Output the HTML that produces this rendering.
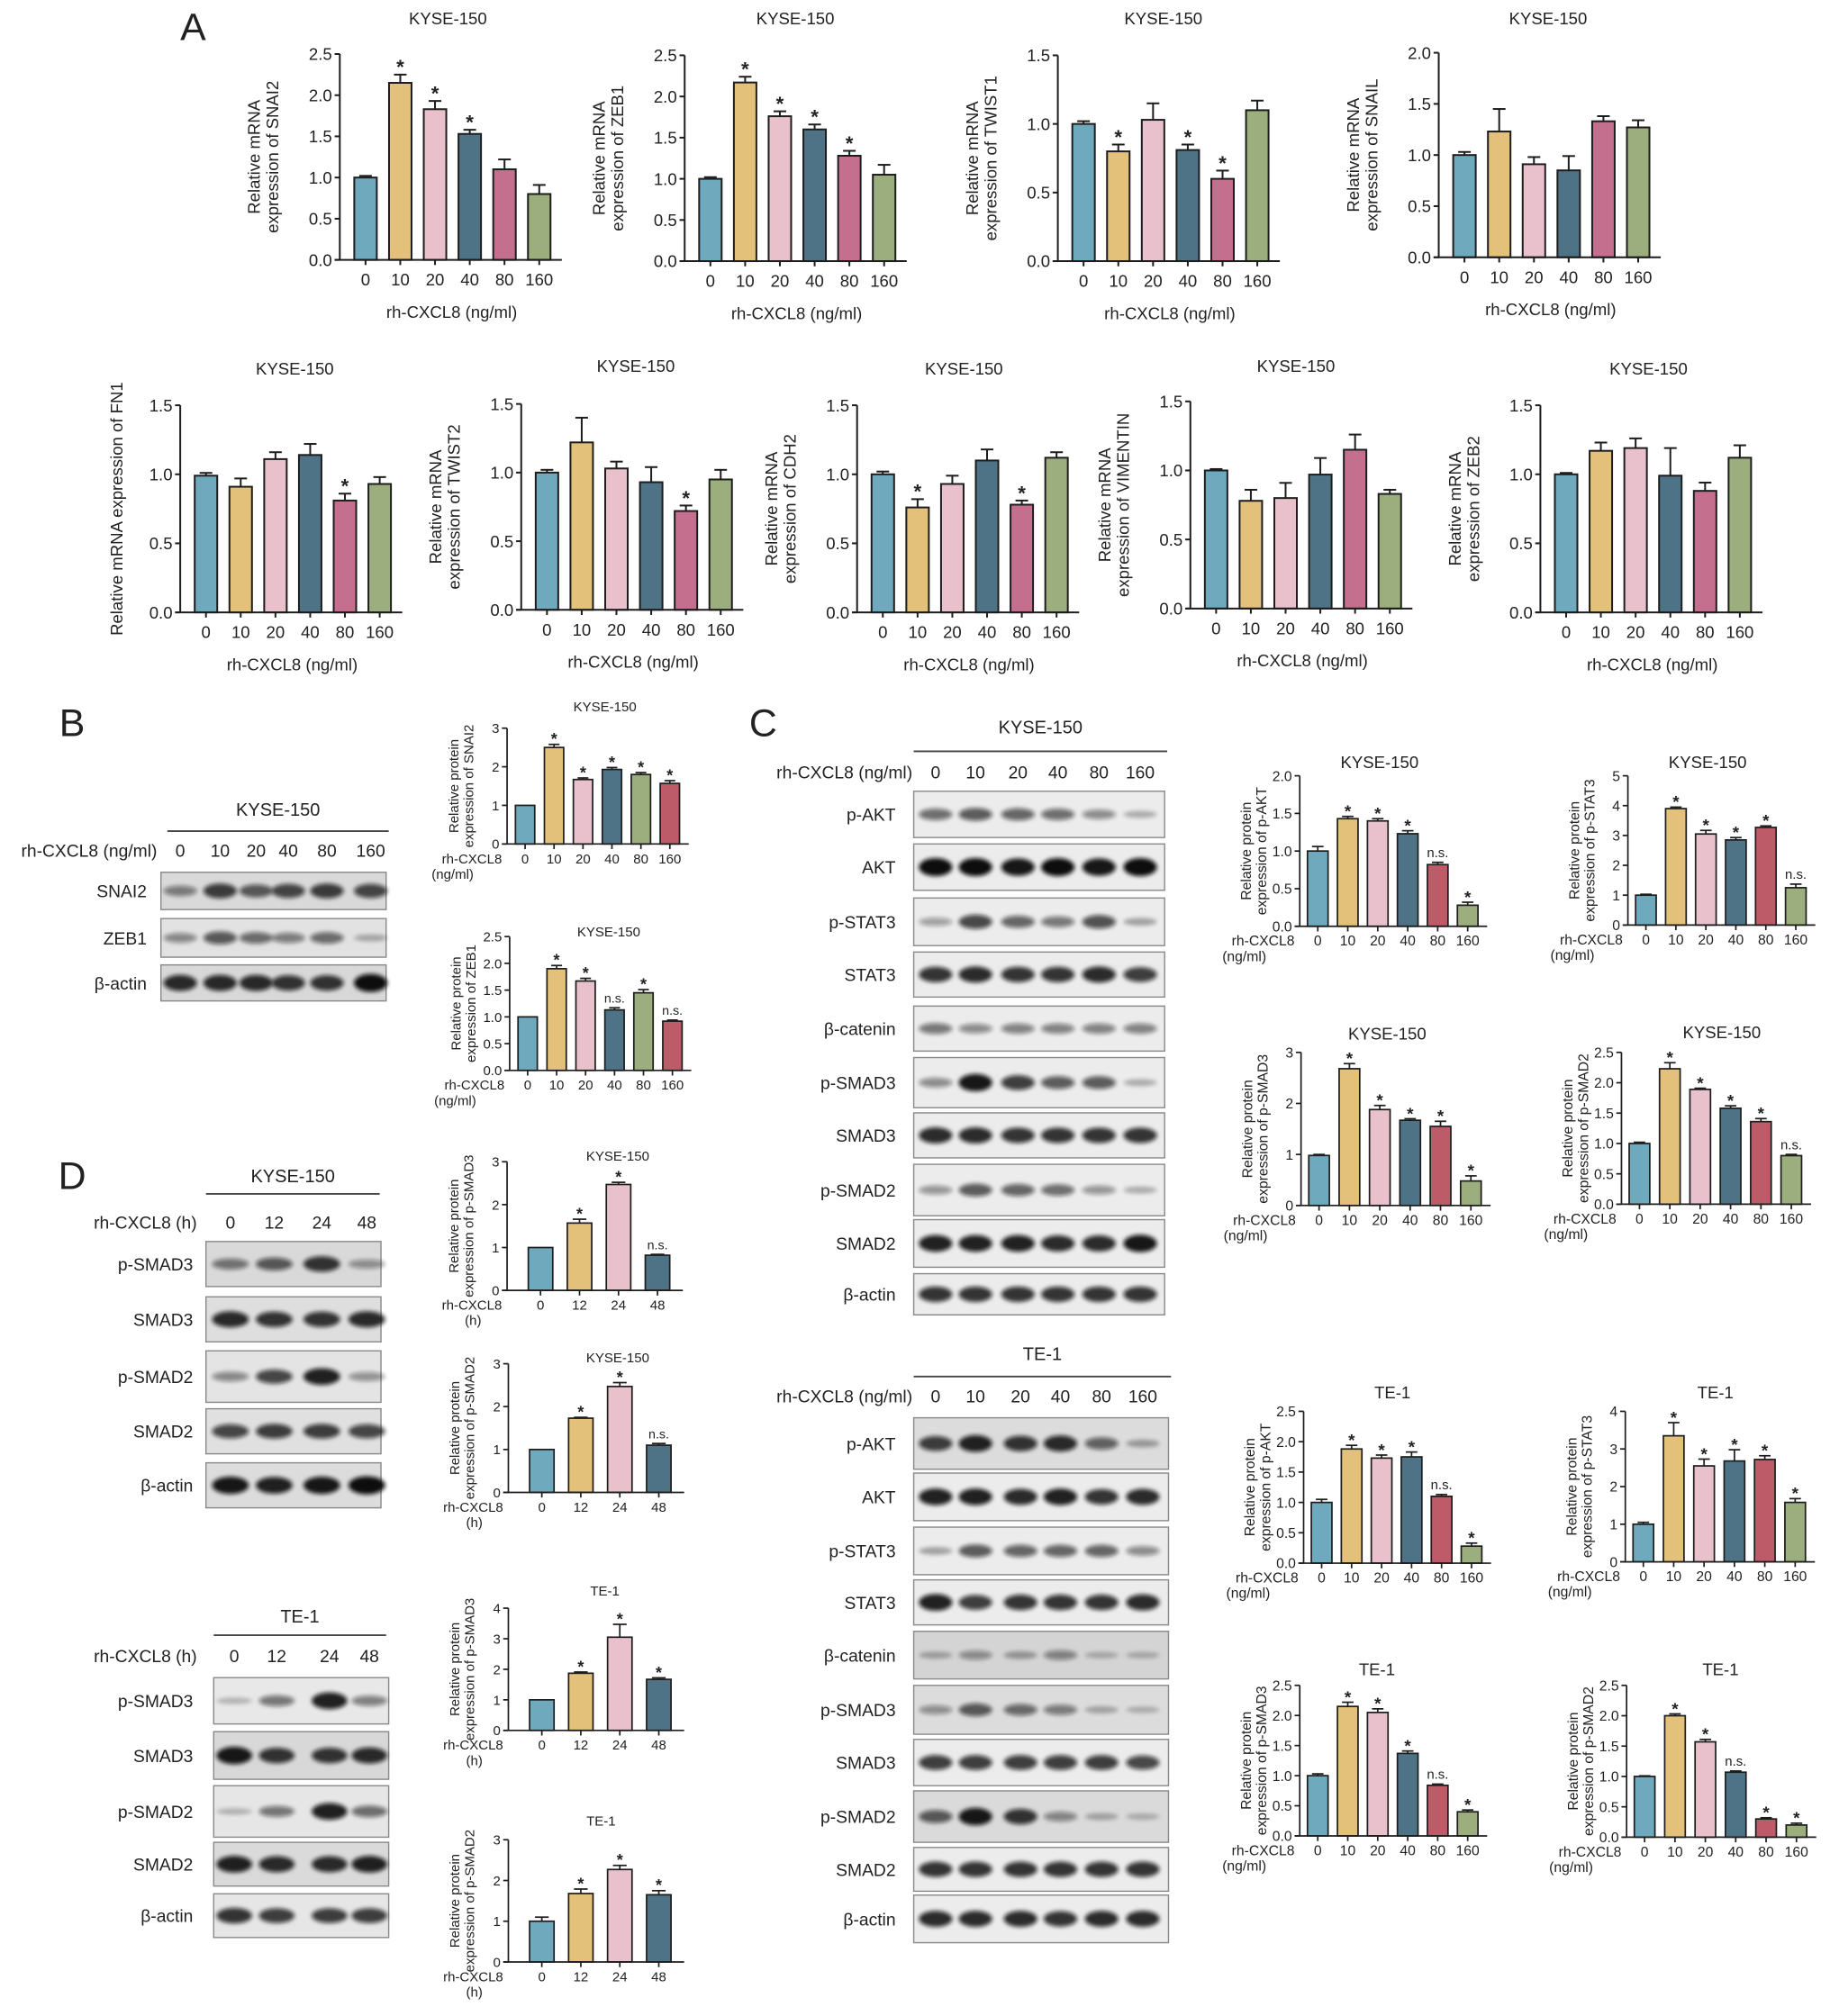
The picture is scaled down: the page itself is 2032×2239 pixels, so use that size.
<!DOCTYPE html>
<html><head><meta charset="utf-8"><style>
html,body{margin:0;padding:0;background:#fff;}
svg{display:block;font-family:"Liberation Sans",Arial,sans-serif;}
</style></head><body>
<svg id="fig" width="2032" height="2239" viewBox="0 0 1422 1567" xmlns="http://www.w3.org/2000/svg">
<defs><filter id="blur" x="-20%" y="-50%" width="140%" height="200%"><feGaussianBlur stdDeviation="1.6"/></filter></defs>
<g id="root"></g>
</svg>
<script>
// ---------- Data ----------
const doseLabels = ["0","10","20","40","80","160"];
const hourLabels = ["0","12","24","48"];
// Panel A mRNA
const snai2Vals=[1.0,2.15,1.83,1.53,1.1,0.8], snai2Err=[0.02,0.1,0.1,0.05,0.12,0.11], snai2Sig=["","*","*","*","",""];
const zeb1Vals=[1.0,2.17,1.76,1.6,1.28,1.05], zeb1Err=[0.02,0.07,0.06,0.06,0.06,0.12], zeb1Sig=["","*","*","*","*",""];
const twist1Vals=[1.0,0.8,1.03,0.81,0.6,1.1], twist1Err=[0.02,0.05,0.12,0.04,0.06,0.07], twist1Sig=["","*","","*","*",""];
const snailVals=[1.0,1.23,0.91,0.85,1.33,1.27], snailErr=[0.03,0.22,0.07,0.14,0.05,0.07], snailSig=["","","","","",""];
const fn1Vals=[0.99,0.91,1.11,1.14,0.81,0.93], fn1Err=[0.02,0.06,0.05,0.08,0.05,0.05], fn1Sig=["","","","","*",""];
const twist2Vals=[1.0,1.22,1.03,0.93,0.72,0.95], twist2Err=[0.02,0.18,0.05,0.11,0.04,0.07], twist2Sig=["","","","","*",""];
const cdh2Vals=[1.0,0.76,0.93,1.1,0.78,1.12], cdh2Err=[0.02,0.06,0.06,0.08,0.03,0.04], cdh2Sig=["","*","","","*",""];
const vimVals=[1.0,0.78,0.8,0.97,1.15,0.83], vimErr=[0.01,0.08,0.11,0.12,0.11,0.03], vimSig=["","","","","",""];
const zeb2Vals=[1.0,1.17,1.19,0.99,0.88,1.12], zeb2Err=[0.01,0.06,0.07,0.2,0.06,0.09], zeb2Sig=["","","","","",""];
// Panel B protein
const bSnai2Vals=[1.0,2.5,1.67,1.93,1.8,1.57], bSnai2Err=[0,0.08,0.04,0.05,0.05,0.07], bSnai2Sig=["","*","*","*","*","*"];
const bZeb1Vals=[1.0,1.9,1.67,1.13,1.45,0.92], bZeb1Err=[0,0.06,0.05,0.04,0.06,0.02], bZeb1Sig=["","*","*","n.s.","*","n.s."];
// Panel C KYSE-150
const cAktK=[1.0,1.43,1.4,1.23,0.82,0.28], cAktKErr=[0.06,0.03,0.03,0.04,0.03,0.04], cAktKSig=["","*","*","*","n.s.","*"];
const cStatK=[1.0,3.9,3.05,2.85,3.27,1.25], cStatKErr=[0.03,0.05,0.12,0.08,0.05,0.12], cStatKSig=["","*","*","*","*","n.s."];
const cSmad3K=[0.98,2.68,1.88,1.67,1.55,0.48], cSmad3KErr=[0.02,0.1,0.08,0.03,0.1,0.1], cSmad3KSig=["","*","*","*","*","*"];
const cSmad2K=[1.0,2.23,1.89,1.58,1.36,0.8], cSmad2KErr=[0.02,0.1,0.02,0.04,0.05,0.02], cSmad2KSig=["","*","*","*","*","n.s."];
// Panel C TE-1
const cAktT=[1.0,1.88,1.73,1.75,1.1,0.28], cAktTErr=[0.05,0.06,0.05,0.08,0.03,0.05], cAktTSig=["","*","*","*","n.s.","*"];
const cStatT=[1.0,3.35,2.55,2.68,2.72,1.58], cStatTErr=[0.05,0.35,0.18,0.3,0.1,0.1], cStatTSig=["","*","*","*","*","*"];
const cSmad3T=[1.0,2.15,2.05,1.37,0.84,0.4], cSmad3TErr=[0.03,0.07,0.06,0.04,0.02,0.03], cSmad3TSig=["","*","*","*","n.s.","*"];
const cSmad2T=[1.0,2.0,1.57,1.07,0.3,0.2], cSmad2TErr=[0.01,0.03,0.04,0.02,0.02,0.03], cSmad2TSig=["","*","*","n.s.","*","*"];
// Panel D
const dSmad3K=[1.0,1.57,2.47,0.82], dSmad3KErr=[0,0.09,0.05,0.02], dSmad3KSig=["","*","*","n.s."];
const dSmad2K=[1.0,1.73,2.47,1.1], dSmad2KErr=[0,0.02,0.09,0.04], dSmad2KSig=["","*","*","n.s."];
const dSmad3T=[1.0,1.87,3.05,1.67], dSmad3TErr=[0,0.04,0.42,0.05], dSmad3TSig=["","*","*","*"];
const dSmad2T=[1.0,1.68,2.27,1.65], dSmad2TErr=[0.1,0.11,0.1,0.1], dSmad2TSig=["","*","*","*"];

const colA=["#6fa9bd","#e3c17b","#e9c1cc","#4e7387","#c46f8e","#9cae7d"];
const colB=["#6fa9bd","#e3c17b","#e9c1cc","#4e7387","#9cae7d","#bd5c68"];
const colC=["#6fa9bd","#e3c17b","#e9c1cc","#4e7387","#bd5c68","#9cae7d"];
const colD=["#6fa9bd","#e3c17b","#e9c1cc","#4e7387"];

// ---------- Helpers ----------
const NS="http://www.w3.org/2000/svg";
const root=document.getElementById('root');
function el(tag,attrs,parent,text){
  const e=document.createElementNS(NS,tag);
  for(const k in attrs) e.setAttribute(k,attrs[k]);
  if(text!==undefined) e.textContent=text;
  (parent||root).appendChild(e);
  return e;
}
function txt(x,y,s,fs,anchor,parent,extra){
  const a={x:x,y:y,'font-size':fs,'text-anchor':anchor||'middle',fill:'#222'};
  if(extra) for(const k in extra) a[k]=extra[k];
  const t=el('text',a,parent,s);
  return t;
}

function barChart(c){
  const g=el('g',{});
  
  
  const n=c.vals.length;
  const X=i=>c.x0+i*c.dx;
  const Y=v=>c.bot-v/c.ymax*(c.bot-c.top);
  const xEnd=X(n-1)+c.dx*0.65;
  const fs=c.fs, lw=c.lw||1.3;
  const t=txt(c.tx,c.ty,c.title,c.tfs,'middle',g);
  
  
  for(let i=0;i<n;i++){
    const v=c.vals[i], e=c.errs[i];
    const b=el('rect',{x:X(i)-c.bw/2,y:Y(v),width:c.bw,height:c.bot-Y(v),fill:c.colors[i],stroke:'#1d1d1d','stroke-width':lw},g);
    
    
    if(e>0){
      el('line',{x1:X(i),x2:X(i),y1:Y(v),y2:Y(v+e),stroke:'#1d1d1d','stroke-width':lw},g);
      el('line',{x1:X(i)-c.bw*0.28,x2:X(i)+c.bw*0.28,y1:Y(v+e),y2:Y(v+e),stroke:'#1d1d1d','stroke-width':lw},g);
    }
    if(c.sigs[i]){
      const s=c.sigs[i];
      const cap=Y(v+e);
      let st;
      if(s==='*'){
        const sfs=fs*1.2;
        st=txt(X(i),cap-(c.starGap||5)+sfs*0.42,s,sfs,'middle',g,{'font-weight':'bold'});
      } else {
        st=txt(X(i),cap-4,s,fs*0.95,'middle',g);
      }
      
      
    }
  }
  el('line',{x1:c.ax,x2:c.ax,y1:c.top,y2:c.bot,stroke:'#1d1d1d','stroke-width':lw},g);
  el('line',{x1:c.ax-4,x2:xEnd,y1:c.bot,y2:c.bot,stroke:'#1d1d1d','stroke-width':lw},g);
  for(const tv of c.ticks){
    el('line',{x1:c.ax-4,x2:c.ax,y1:Y(tv),y2:Y(tv),stroke:'#1d1d1d','stroke-width':lw},g);
    const tl=txt(c.ax-6,Y(tv)+fs*0.36,tv.toFixed(c.dec),fs,'end',g);
    
    
  }
  for(let i=0;i<n;i++){
    el('line',{x1:X(i),x2:X(i),y1:c.bot,y2:c.bot+4,stroke:'#1d1d1d','stroke-width':lw},g);
    const xl=txt(X(i),c.xly,c.xlabs[i],fs,'middle',g);
    
    
  }
  const cy=(c.top+c.bot)/2;
  c.ylab.forEach((line,k)=>{
    const yl=txt(0,0,line,c.yfs||fs,'middle',g,{transform:`translate(${c.ylx+k*(c.yfs||fs)*1.1},${cy}) rotate(-90)`});
    
    
  });
  c.xt.forEach((line,k)=>{
    const xt=txt(c.xtx[k],c.xty[k],line,c.xtfs||fs,c.xta||'middle',g);
    
    
  });
}

// ---------- Panel A ----------
function aChart(name,title,gene,vals,errs,sigs,ax,top,bot,ymax,tx,ty,oneLine){
  const ticks=[];for(let v=0;v<=ymax+1e-9;v+=0.5)ticks.push(+v.toFixed(1));
  barChart({name:name,title:title,tx:tx,ty:ty,tfs:13,vals:vals,errs:errs,sigs:sigs,colors:colA,
    ax:ax,top:top,bot:bot,ymax:ymax,ticks:ticks,dec:1,x0:ax+20,dx:27,bw:17.5,fs:13,lw:1.4,starGap:7,
    xlabs:doseLabels,xly:bot+20,
    ylab:oneLine?["Relative mRNA expression of "+gene]:["Relative mRNA","expression of "+gene],ylx:oneLine?ax-45:ax-62,
    xt:["rh-CXCL8 (ng/ml)"],xtx:[ax+87],xty:[bot+45]});
}
aChart('chart-snai2-mrna','KYSE-150','SNAI2',snai2Vals,snai2Err,snai2Sig,264,42,202,2.5,348,19);
aChart('chart-zeb1-mrna','KYSE-150','ZEB1',zeb1Vals,zeb1Err,zeb1Sig,532,43,203,2.5,618,19);
aChart('chart-twist1-mrna','KYSE-150','TWIST1',twist1Vals,twist1Err,twist1Sig,822,43,203,1.5,904,19);
aChart('chart-snail-mrna','KYSE-150','SNAIL',snailVals,snailErr,snailSig,1118,41,200,2.0,1203,19);
aChart('chart-fn1-mrna','KYSE-150','FN1',fn1Vals,fn1Err,fn1Sig,140,315,476,1.5,229,291,true);
aChart('chart-twist2-mrna','KYSE-150','TWIST2',twist2Vals,twist2Err,twist2Sig,405,314,474,1.5,494,289);
aChart('chart-cdh2-mrna','KYSE-150','CDH2',cdh2Vals,cdh2Err,cdh2Sig,666,315,476,1.5,749,291);
aChart('chart-vimentin-mrna','KYSE-150','VIMENTIN',vimVals,vimErr,vimSig,925,312,473,1.5,1007,289);
aChart('chart-zeb2-mrna','KYSE-150','ZEB2',zeb2Vals,zeb2Err,zeb2Sig,1197,315,476,1.5,1281,291);

// ---------- Protein charts ----------
function pChart(name,title,gene,vals,errs,sigs,colors,ax,top,bot,ymax,step,dec,tx,ty,tfs,xl,unit,dx,bw,fs){
  fs=fs||10.5;
  const ticks=[];for(let v=0;v<=ymax+1e-9;v+=step)ticks.push(+v.toFixed(1));
  barChart({name:name,title:title,tx:tx,ty:ty,tfs:tfs,vals:vals,errs:errs,sigs:sigs,colors:colors,
    ax:ax,top:top,bot:bot,ymax:ymax,ticks:ticks,dec:dec,x0:ax+(dx>26?26:14),dx:dx,bw:bw,fs:fs,lw:1.2,starGap:5,
    xlabs:xl,xly:bot+15,
    ylab:["Relative protein","expression of "+gene],ylx:ax-38,yfs:fs,
    xt:["rh-CXCL8",unit],xtx:[ax-4,ax-(unit==="(h)"?20:26)],xty:[bot+15,bot+27],xta:'end',xtfs:fs});
}
// B
pChart('chart-snai2-protein','KYSE-150','SNAI2',bSnai2Vals,bSnai2Err,bSnai2Sig,colB,394,566,656,3,1,0,470,553,10.5,doseLabels,"(ng/ml)",22.5,15);
pChart('chart-zeb1-protein','KYSE-150','ZEB1',bZeb1Vals,bZeb1Err,bZeb1Sig,colB,396,728,832,2.5,0.5,1,473,728,10.5,doseLabels,"(ng/ml)",22.5,15);
// C KYSE
pChart('chart-pakt-kyse','KYSE-150','p-AKT',cAktK,cAktKErr,cAktKSig,colC,1010,603,720,2.0,0.5,1,1072,597,13,doseLabels,"(ng/ml)",23.3,16,11);
pChart('chart-pstat3-kyse','KYSE-150','p-STAT3',cStatK,cStatKErr,cStatKSig,colC,1265,603,719,5,1,0,1327,597,13,doseLabels,"(ng/ml)",23.3,16,11);
pChart('chart-psmad3-kyse','KYSE-150','p-SMAD3',cSmad3K,cSmad3KErr,cSmad3KSig,colC,1011,818,937,3,1,0,1078,808,13,doseLabels,"(ng/ml)",23.6,16,11);
pChart('chart-psmad2-kyse','KYSE-150','p-SMAD2',cSmad2K,cSmad2KErr,cSmad2KSig,colC,1260,818,936,2.5,0.5,1,1338,807,13,doseLabels,"(ng/ml)",23.6,16,11);
// C TE-1
pChart('chart-pakt-te1','TE-1','p-AKT',cAktT,cAktTErr,cAktTSig,colC,1013,1097,1215,2.5,0.5,1,1082,1087,13,doseLabels,"(ng/ml)",23.3,16,11);
pChart('chart-pstat3-te1','TE-1','p-STAT3',cStatT,cStatTErr,cStatTSig,colC,1263,1097,1214,4,1,0,1333,1087,13,doseLabels,"(ng/ml)",23.6,16,11);
pChart('chart-psmad3-te1','TE-1','p-SMAD3',cSmad3T,cSmad3TErr,cSmad3TSig,colC,1010,1310,1427,2.5,0.5,1,1070,1302,13,doseLabels,"(ng/ml)",23.3,16,11);
pChart('chart-psmad2-te1','TE-1','p-SMAD2',cSmad2T,cSmad2TErr,cSmad2TSig,colC,1264,1310,1428,2.5,0.5,1,1337,1302,13,doseLabels,"(ng/ml)",23.6,16,11);
// D
pChart('chart-psmad3-time-kyse','KYSE-150','p-SMAD3',dSmad3K,dSmad3KErr,dSmad3KSig,colD,394,903,1003,3,1,0,480,902,10.5,hourLabels,"(h)",30.3,19);
pChart('chart-psmad2-time-kyse','KYSE-150','p-SMAD2',dSmad2K,dSmad2KErr,dSmad2KSig,colD,395,1060,1160,3,1,0,480,1059,10.5,hourLabels,"(h)",30.3,19);
pChart('chart-psmad3-time-te1','TE-1','p-SMAD3',dSmad3T,dSmad3TErr,dSmad3TSig,colD,395,1250,1345,4,1,0,470,1240,10.5,hourLabels,"(h)",30.3,19);
pChart('chart-psmad2-time-te1','TE-1','p-SMAD2',dSmad2T,dSmad2TErr,dSmad2TSig,colD,395,1430,1525,3,1,0,467,1419,10.5,hourLabels,"(h)",30.3,19);

// ---------- Blots ----------
function blotPanel(name,cfg){
  const g=el('g',{});
  
  
  txt((cfg.lineX1+cfg.lineX2)/2,cfg.titleY,cfg.title,14,'middle',g);
  el('line',{x1:cfg.lineX1,x2:cfg.lineX2,y1:cfg.lineY,y2:cfg.lineY,stroke:'#444','stroke-width':1.3},g);
  txt(cfg.headerX,cfg.headerY,cfg.header,13.5,'end',g);
  cfg.laneLabels.forEach((l,i)=>txt(cfg.laneX[i],cfg.headerY,l,13.5,'middle',g));
  cfg.rows.forEach(r=>{
    const rg=el('g',{},g);
    
    
    const y1=r[1],y2=r[2];
    el('rect',{x:cfg.boxX1,y:y1,width:cfg.boxX2-cfg.boxX1,height:y2-y1,fill:r[4]||'#ececec',stroke:'#8a8a8a','stroke-width':1},rg);
    const cy=(y1+y2)/2, lw=(cfg.laneX[1]-cfg.laneX[0])*0.42;
    r[3].forEach((it,i)=>{
      if(it<=0) return;
      el('ellipse',{cx:cfg.laneX[i],cy:cy,rx:lw,ry:2+it*5,fill:'#111','fill-opacity':Math.min(1,0.15+it*0.85),filter:'url(#blur)'},rg);
    });
    txt(cfg.labelX,cy+5,r[0],13.5,'end',rg);
  });
}
blotPanel('blot-b-kyse150',{title:'KYSE-150',lineX1:130,lineX2:302,lineY:646,titleY:634,header:'rh-CXCL8 (ng/ml)',headerX:122,headerY:666,
  laneLabels:doseLabels,laneX:[140,171,199,224,254,288],boxX1:125,boxX2:300,labelX:114,
  rows:[["SNAI2",678,707,[0.4,0.75,0.6,0.7,0.75,0.7],'#d9d9d9'],["ZEB1",714,744,[0.35,0.6,0.5,0.4,0.5,0.15],'#e2e2e2'],["β-actin",750,778,[0.85,0.85,0.85,0.8,0.8,1],'#d8d8d8']]});
blotPanel('blot-c-kyse150',{title:'KYSE-150',lineX1:710,lineX2:907,lineY:584,titleY:570,header:'rh-CXCL8 (ng/ml)',headerX:709,headerY:605,
  laneLabels:doseLabels,laneX:[727,758,791,822,854,886],boxX1:710,boxX2:905,labelX:696,
  rows:[["p-AKT",615,651,[0.5,0.6,0.55,0.5,0.35,0.15]],["AKT",656,692,[1,1,0.95,1,0.95,1]],["p-STAT3",698,735,[0.25,0.7,0.55,0.45,0.65,0.2]],
    ["STAT3",740,775,[0.8,0.85,0.8,0.8,0.85,0.75]],["β-catenin",782,817,[0.45,0.35,0.4,0.4,0.4,0.4]],["p-SMAD3",822,861,[0.35,0.95,0.75,0.6,0.6,0.15]],
    ["SMAD3",865,900,[0.85,0.85,0.8,0.8,0.8,0.8]],["p-SMAD2",905,945,[0.3,0.6,0.55,0.5,0.3,0.15]],["SMAD2",948,985,[0.9,0.9,0.9,0.85,0.85,0.95]],
    ["β-actin",990,1022,[0.8,0.8,0.8,0.8,0.8,0.8]]]});
blotPanel('blot-c-te1',{title:'TE-1',lineX1:710,lineX2:910,lineY:1070,titleY:1057,header:'rh-CXCL8 (ng/ml)',headerX:709,headerY:1090,
  laneLabels:doseLabels,laneX:[727,758,793,824,856,888],boxX1:710,boxX2:908,labelX:696,
  rows:[["p-AKT",1102,1142,[0.75,0.9,0.8,0.85,0.55,0.2],'#dcdcdc'],["AKT",1145,1182,[0.9,0.9,0.85,0.9,0.8,0.85]],["p-STAT3",1187,1224,[0.2,0.6,0.55,0.55,0.55,0.35]],
    ["STAT3",1228,1263,[0.9,0.75,0.8,0.8,0.8,0.85]],["β-catenin",1268,1305,[0.15,0.3,0.2,0.35,0.1,0.1],'#d4d4d4'],["p-SMAD3",1310,1348,[0.3,0.6,0.5,0.4,0.15,0.1],'#dcdcdc'],
    ["SMAD3",1352,1388,[0.75,0.75,0.75,0.75,0.75,0.7]],["p-SMAD2",1392,1432,[0.6,0.95,0.8,0.35,0.15,0.1],'#dadada'],["SMAD2",1436,1470,[0.8,0.8,0.8,0.8,0.8,0.8]],
    ["β-actin",1473,1510,[0.85,0.85,0.85,0.8,0.85,0.85]]]});
blotPanel('blot-d-kyse150',{title:'KYSE-150',lineX1:160,lineX2:295,lineY:928,titleY:919,header:'rh-CXCL8 (h)',headerX:153,headerY:955,
  laneLabels:hourLabels,laneX:[179,213,250,285],boxX1:160,boxX2:296,labelX:150,
  rows:[["p-SMAD3",965,1000,[0.45,0.6,0.8,0.3],'#d9d9d9'],["SMAD3",1008,1043,[0.85,0.8,0.8,0.85],'#dedede'],["p-SMAD2",1050,1090,[0.35,0.7,0.9,0.3],'#e4e4e4'],
    ["SMAD2",1095,1130,[0.7,0.75,0.75,0.7],'#e0e0e0'],["β-actin",1137,1172,[0.95,0.9,0.95,1],'#dcdcdc']]});
blotPanel('blot-d-te1',{title:'TE-1',lineX1:166,lineX2:300,lineY:1271,titleY:1261,header:'rh-CXCL8 (h)',headerX:153,headerY:1292,
  laneLabels:hourLabels,laneX:[182,215,256,287],boxX1:166,boxX2:302,labelX:150,
  rows:[["p-SMAD3",1304,1340,[0.1,0.45,0.9,0.4],'#e8e8e8'],["SMAD3",1346,1383,[0.95,0.8,0.8,0.85],'#d8d8d8'],["p-SMAD2",1388,1428,[0.1,0.45,0.9,0.5],'#e6e6e6'],
    ["SMAD2",1432,1466,[0.9,0.85,0.85,0.9],'#dadada'],["β-actin",1472,1506,[0.8,0.75,0.75,0.75],'#e6e6e6']]});

// Panel letters
[["A",150,31],["B",56,572],["C",593,572],["D",56,924]].forEach(p=>{
  const t=txt(p[1],p[2],p[0],30,'middle');
  
  
});
</script>
</body></html>
